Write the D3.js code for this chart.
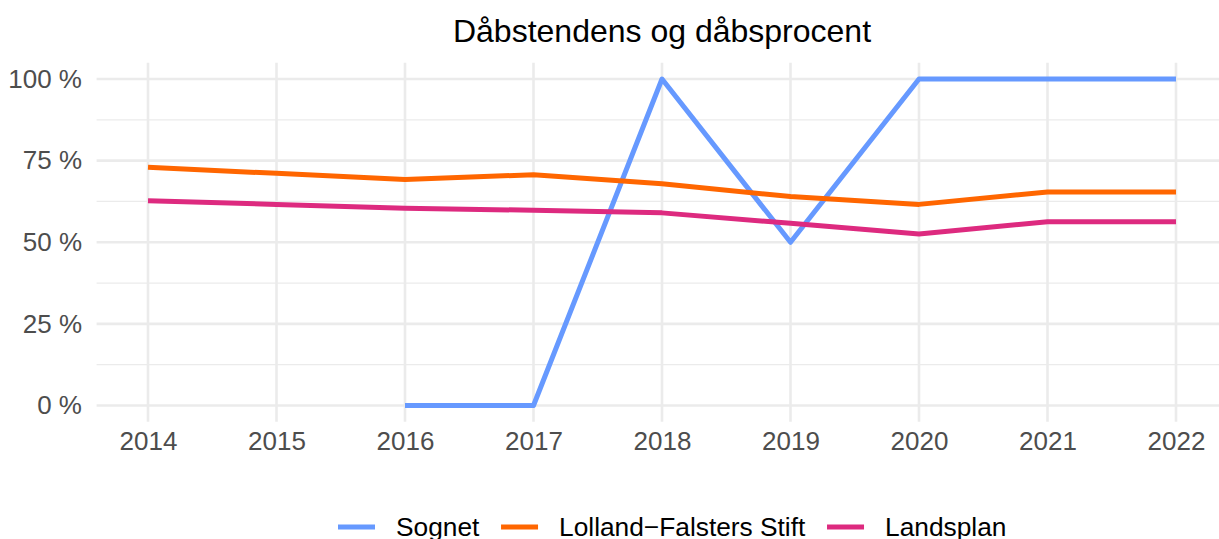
<!DOCTYPE html>
<html>
<head>
<meta charset="utf-8">
<script src="https://cdn.jsdelivr.net/npm/d3@7"></script>
<style>
  body { margin: 0; background: #fff; }
  svg { display: block; font-family: "Liberation Sans", Arial, sans-serif; }
</style>
</head>
<body>
<div id="chart"></div>
<script>
// data
var years = [2014, 2015, 2016, 2017, 2018, 2019, 2020, 2021, 2022];
var sognet = [null, null, 0, 0, 100, 50, 100, 100, 100];
var stift = [73.0, 71.1, 69.2, 70.7, 67.9, 64.0, 61.6, 65.4, 65.4];
var landsplan = [62.7, 61.6, 60.4, 59.8, 59.0, 55.8, 52.5, 56.3, 56.3];
var seriesNames = ["Sognet", "Lolland\u2212Falsters Stift", "Landsplan"];
var seriesColors = ["#6699FF", "#FF6600", "#DD2A7F"];
var yTicks = [0, 25, 50, 75, 100];
var yMinor = [12.5, 37.5, 62.5, 87.5];

var width = 1219, height = 539;

var svg = d3.select("#chart").append("svg")
    .attr("width", width)
    .attr("height", height);

// ggplot style 5% expansion on both axes
var x = d3.scaleLinear().domain([2013.6, 2022.4]).range([96.6, 1227.4]);
var y = d3.scaleLinear().domain([-5, 105]).range([421.8, 62.7]);

var grid = svg.append("g");

grid.selectAll(".minor")
    .data(yMinor)
    .enter().append("line")
    .attr("x1", x.range()[0]).attr("x2", x.range()[1])
    .attr("y1", function(d) { return y(d); })
    .attr("y2", function(d) { return y(d); })
    .attr("stroke", "#EBEBEB")
    .attr("stroke-width", 1.3);

grid.selectAll(".hmajor")
    .data(yTicks)
    .enter().append("line")
    .attr("x1", x.range()[0]).attr("x2", x.range()[1])
    .attr("y1", function(d) { return y(d); })
    .attr("y2", function(d) { return y(d); })
    .attr("stroke", "#EBEBEB")
    .attr("stroke-width", 2.6);

grid.selectAll(".vmajor")
    .data(years)
    .enter().append("line")
    .attr("y1", y.range()[0]).attr("y2", y.range()[1])
    .attr("x1", function(d) { return x(d); })
    .attr("x2", function(d) { return x(d); })
    .attr("stroke", "#EBEBEB")
    .attr("stroke-width", 2.6);

// axes, drawn with d3 axis then stripped of domain/tick lines
var xAxis = svg.append("g")
    .attr("transform", "translate(0," + 432 + ")")
    .call(d3.axisBottom(x).tickValues(years).tickFormat(d3.format("d")).tickSize(0).tickPadding(0));
xAxis.select(".domain").remove();
xAxis.selectAll("text")
    .attr("dy", "0.71em")
    .style("font-size", "26px")
    .style("font-family", "Liberation Sans, Arial, sans-serif")
    .attr("fill", "#4D4D4D");

var yAxis = svg.append("g")
    .attr("transform", "translate(" + 82 + ",0)")
    .call(d3.axisLeft(y).tickValues(yTicks).tickFormat(function(d) { return d + " %"; }).tickSize(0).tickPadding(0));
yAxis.select(".domain").remove();
yAxis.selectAll("text")
    .style("font-size", "26px")
    .style("font-family", "Liberation Sans, Arial, sans-serif")
    .attr("fill", "#4D4D4D");

// lines
var allSeries = [sognet, stift, landsplan];
var line = d3.line()
    .defined(function(d) { return d != null; })
    .x(function(d, i) { return x(years[i]); })
    .y(function(d) { return y(d); });

svg.append("g").selectAll("path")
    .data(allSeries)
    .enter().append("path")
    .attr("d", line)
    .attr("fill", "none")
    .attr("stroke", function(d, i) { return seriesColors[i]; })
    .attr("stroke-width", 5)
    .attr("stroke-linejoin", "round")
    .attr("stroke-linecap", "butt");

// title
svg.append("text")
    .attr("x", (x.range()[0] + x.range()[1]) / 2)
    .attr("y", 42)
    .attr("text-anchor", "middle")
    .style("font-size", "32px")
    .attr("fill", "#000")
    .text("Dåbstendens og dåbsprocent");

// legend along the bottom edge
var legend = svg.append("g");
var items = legend.selectAll("g")
    .data(seriesNames)
    .enter().append("g");
items.append("line")
    .attr("x1", 0).attr("x2", 37)
    .attr("y1", 0).attr("y2", 0)
    .attr("stroke", function(d, i) { return seriesColors[i]; })
    .attr("stroke-width", 5);
items.append("text")
    .attr("x", 58)
    .attr("y", 9)
    .style("font-size", "26.3px")
    .attr("fill", "#000")
    .text(function(d) { return d; });

var xpos = 0;
items.each(function() {
  var w = this.getBBox().width;
  d3.select(this).attr("transform", "translate(" + xpos + ",0)");
  xpos += w + 21;
});
legend.attr("transform", "translate(" + 338 + "," + 527 + ")");
</script>
</body>
</html>
